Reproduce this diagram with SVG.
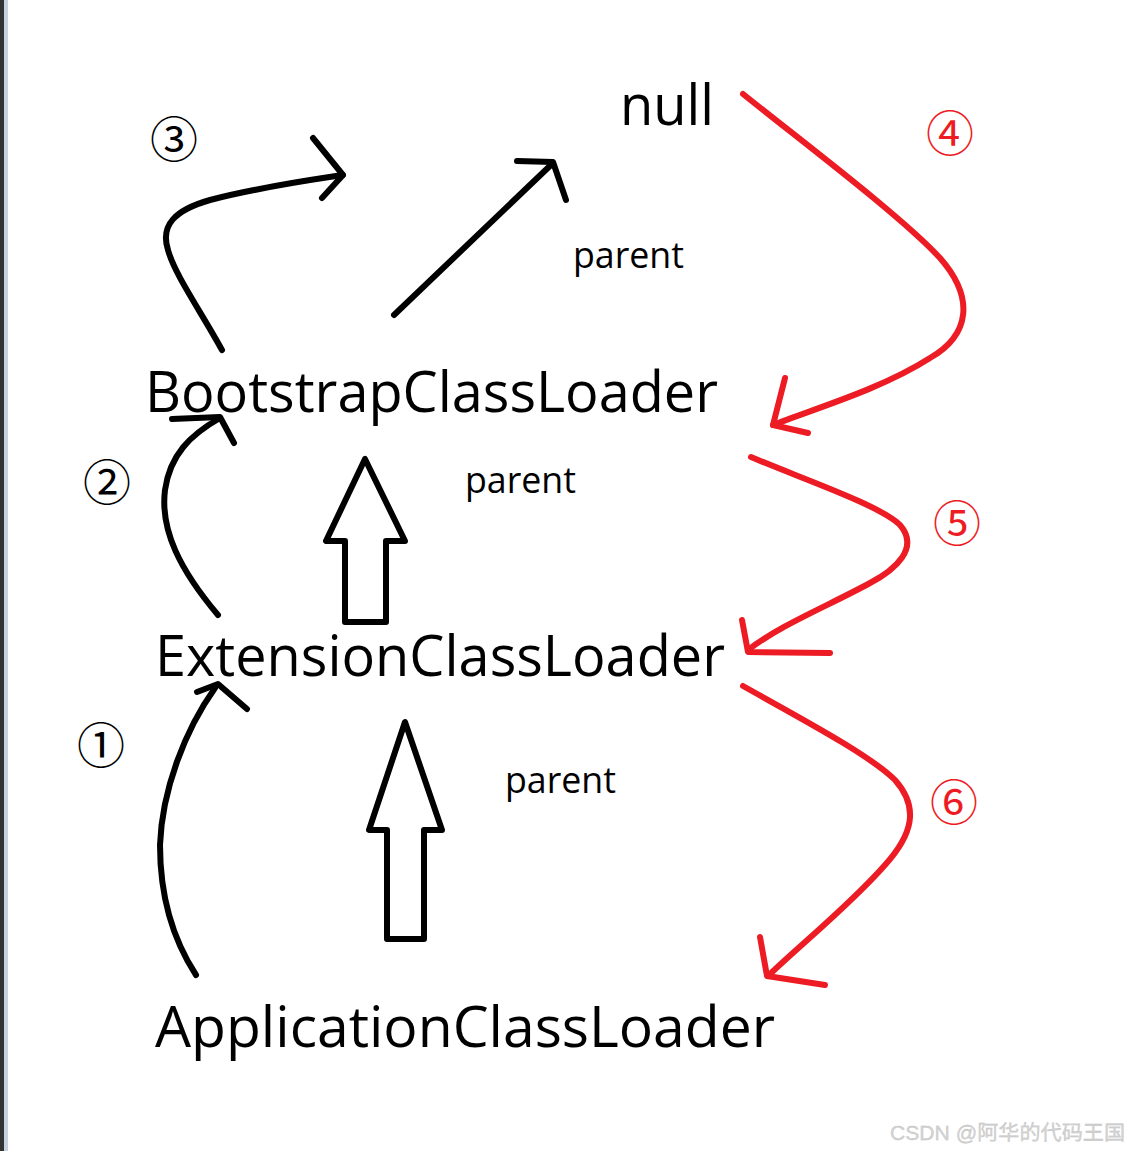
<svg xmlns="http://www.w3.org/2000/svg" width="1129" height="1151" viewBox="0 0 1129 1151">
<style>
.lbl{font-family:"Open Sans","Noto Sans","Liberation Sans",sans-serif;fill:#000}
.big{font-size:57px}
.par{font-size:37px}
.num{font-family:"Noto Sans CJK SC","Noto Sans CJK JP",sans-serif;font-size:48px;text-anchor:middle}
.blk{fill:none;stroke:#000;stroke-width:6;stroke-linecap:round;stroke-linejoin:round}
.red{fill:none;stroke:#ed1c24;stroke-width:6;stroke-linecap:round;stroke-linejoin:round}
</style>
<rect x="0" y="0" width="1129" height="1151" fill="#fff"/>
<rect x="0" y="0" width="4" height="1151" fill="#333"/>
<rect x="4" y="0" width="4" height="1151" fill="#c9d1e0"/>
<g id="node-null"><text class="lbl big" x="620" y="125" textLength="94" lengthAdjust="spacingAndGlyphs">null</text></g>
<g id="node-bootstrap"><text class="lbl big" x="145" y="412" textLength="573" lengthAdjust="spacingAndGlyphs">BootstrapClassLoader</text></g>
<g id="node-extension"><text class="lbl big" x="155" y="676" textLength="570" lengthAdjust="spacingAndGlyphs">ExtensionClassLoader</text></g>
<g id="node-application"><text class="lbl big" x="155" y="1047" textLength="620" lengthAdjust="spacingAndGlyphs">ApplicationClassLoader</text></g>
<g id="connectors">
<path class="blk" d="M222,350 C200,310 175,275 168,250 C160,225 175,210 210,200 C260,187 310,180 343,175"/>
<path class="blk" d="M313,138 L343,175 L322,198"/>
<path class="blk" d="M394,315 L553,163"/>
<path class="blk" d="M517,161 L553,162 L566,200"/>
<path class="blk" d="M218,615 C180,570 160,530 165,490 C170,455 190,435 220,418"/>
<path class="blk" d="M172,419 L220,417 L234,443"/>
<path class="blk" d="M196,975 C170,935 160,890 160,845 C162,790 185,730 215,688"/>
<path class="blk" d="M197,692 L218,684 L247,709"/>
<polygon class="blk" points="365,459 326,541 345,541 345,622 386,622 386,541 405,541"/>
<polygon class="blk" points="405,722 369,830 387,830 387,939 424,939 424,830 442,830"/>
<path class="red" d="M743,94 C800,140 900,215 940,258 C975,298 970,335 930,358 C880,390 810,410 773,425"/>
<path class="red" d="M785,378 L773,425 L808,433"/>
<path class="red" d="M751,457 C800,478 880,505 900,525 C920,548 895,570 870,583 C830,605 780,625 748,650"/>
<path class="red" d="M742,620 L748,652 L830,653"/>
<path class="red" d="M743,686 C800,718 870,755 895,780 C920,808 912,835 885,865 C850,905 800,945 768,976"/>
<path class="red" d="M760,937 L767,976 L825,985"/>
</g>
<g id="labels">
<text class="lbl par" x="573" y="268" textLength="111" lengthAdjust="spacingAndGlyphs">parent</text>
<text class="lbl par" x="465" y="493" textLength="111" lengthAdjust="spacingAndGlyphs">parent</text>
<text class="lbl par" x="505" y="793" textLength="111" lengthAdjust="spacingAndGlyphs">parent</text>
<text class="num" x="174" y="157" fill="#000">③</text>
<text class="num" x="107" y="500" fill="#000">②</text>
<text class="num" x="101" y="763" fill="#000">①</text>
<text class="num" x="950" y="151" fill="#ed1c24">④</text>
<text class="num" x="957" y="541" fill="#ed1c24">⑤</text>
<text class="num" x="954" y="820" fill="#ed1c24">⑥</text>
</g>
<text x="890" y="1140" textLength="235" lengthAdjust="spacingAndGlyphs" font-family="Liberation Sans,Noto Sans CJK SC,sans-serif" font-size="20" fill="#d4d4d4" stroke="#bdbdbd" stroke-width="0.3">CSDN @阿华的代码王国</text>
</svg>
